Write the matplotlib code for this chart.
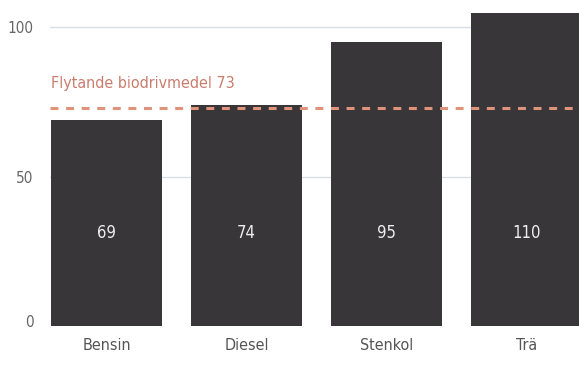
import matplotlib.pyplot as plt
from matplotlib.transforms import ScaledTranslation

# Utsläpp per bränsle
categories = ['Bensin', 'Diesel', 'Stenkol', 'Trä']
values = [69, 74, 95, 110]
ref_label = 'Flytande biodrivmedel'
ref_value = 73
yticks = [0, 50, 100]

plt.rcParams['font.family'] = ['DejaVu Sans']
plt.rcParams['font.stretch'] = 'condensed'

fig = plt.figure(figsize=(5.79, 3.67), dpi=100)
ax = fig.add_axes([50 / 579, 1 - 326 / 367, 529 / 579, 313 / 367])

x = range(len(categories))
ax.bar(x, values, width=0.79, color='#383638', zorder=2)
for xi, v in zip(x, values):
    ax.text(xi, 31, str(v), ha='center', va='center', color='#eeeeee',
            fontsize=12, zorder=3)

# referenslinje
ax.axhline(ref_value, color='#e0937b', lw=2.2, dashes=(2.6, 2.5), zorder=4)
ax.text(0.002, 79.6, f'{ref_label} {ref_value}', transform=ax.get_yaxis_transform(),
        color='#c97d6d', fontsize=11.5, va='baseline', ha='left')

ax.set_xlim(-0.404, 3.375)
ax.set_ylim(0, 104.7)
ax.set_yticks(yticks)
ax.set_xticks(list(x))
ax.set_xticklabels(categories)
for val in yticks[1:]:
    ax.axhline(val, color='#d8dfe1', lw=1, zorder=1)

ax.tick_params(axis='y', length=0, pad=12, labelcolor='#666666', labelsize=11)
ax.tick_params(axis='x', length=0, pad=9, labelcolor='#555555', labelsize=11.5)
for s in ax.spines.values():
    s.set_visible(False)

# nollan lyfts lite över axeln
lbl0 = ax.get_yticklabels()[0]
lbl0.set_transform(lbl0.get_transform() + ScaledTranslation(0, 5 / 100, fig.dpi_scale_trans))

fig.savefig('out.png', dpi=100)
